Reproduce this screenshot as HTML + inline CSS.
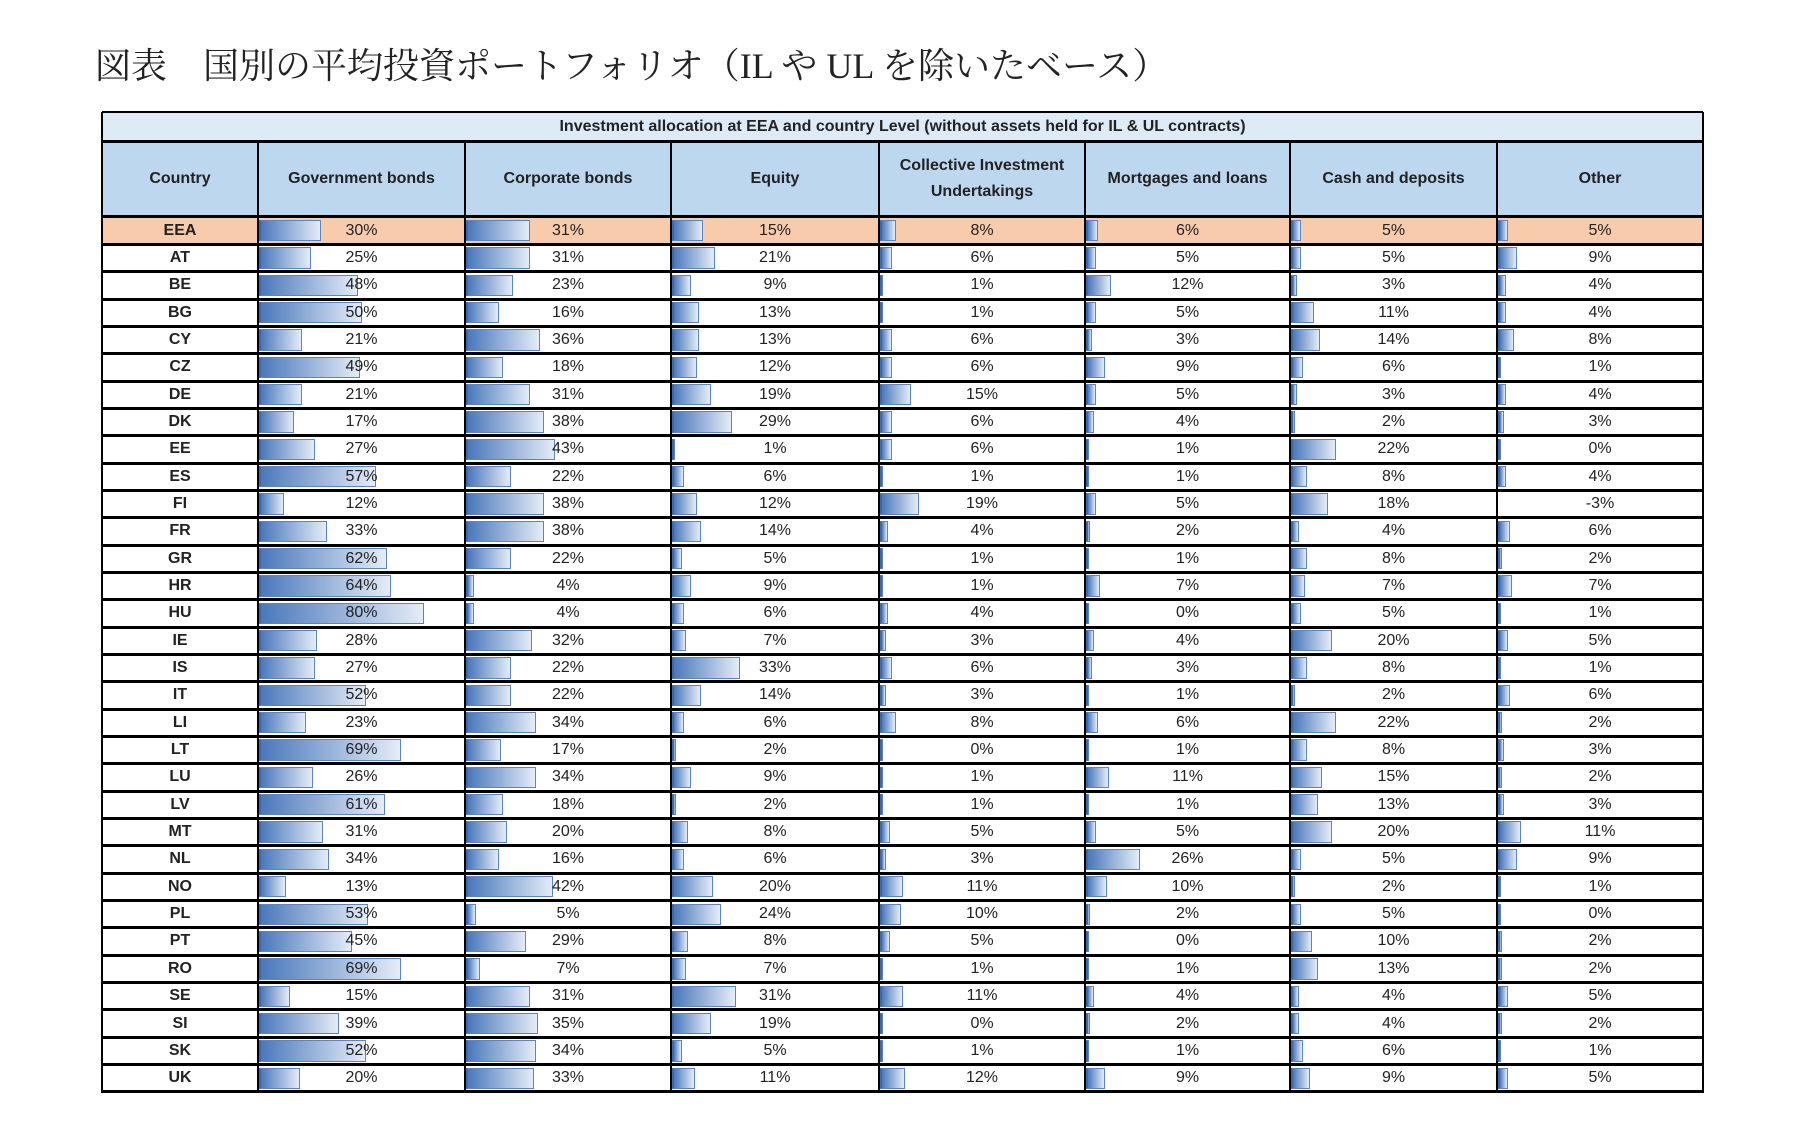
<!DOCTYPE html>
<html><head><meta charset="utf-8"><style>
body{margin:0;width:1808px;height:1121px;background:#fff;position:relative;overflow:hidden;font-family:"Liberation Sans Narrow","Liberation Sans",sans-serif}
.title{position:absolute;left:95px;top:38px;font-family:"Liberation Serif","Noto Serif CJK JP",serif;font-size:36px;color:#222;white-space:nowrap}
.c{position:absolute;box-sizing:border-box;display:flex;align-items:center;justify-content:center;font-size:16px;color:#222;text-align:center}
.bar{position:absolute;left:1px;top:3px;bottom:3px;background:linear-gradient(to right,#4a78bb,#e4ecf7);border:1px solid #5b84c0;border-left:2px solid #3d68aa;box-sizing:border-box}
.t{position:relative;z-index:1}
.hl{position:absolute;left:102px;width:1601px;background:#000}
.vl{position:absolute;width:2px;background:#000}
</style></head><body>
<div class="title">図表　国別の平均投資ポートフォリオ（IL や UL を除いたベース）</div>
<div id="t"></div>
<script>
var X=[102,258,465,671,879,1085,1290,1497,1703];
var D=`EEA 30 31 15 8 6 5 5
AT 25 31 21 6 5 5 9
BE 48 23 9 1 12 3 4
BG 50 16 13 1 5 11 4
CY 21 36 13 6 3 14 8
CZ 49 18 12 6 9 6 1
DE 21 31 19 15 5 3 4
DK 17 38 29 6 4 2 3
EE 27 43 1 6 1 22 0
ES 57 22 6 1 1 8 4
FI 12 38 12 19 5 18 -3
FR 33 38 14 4 2 4 6
GR 62 22 5 1 1 8 2
HR 64 4 9 1 7 7 7
HU 80 4 6 4 0 5 1
IE 28 32 7 3 4 20 5
IS 27 22 33 6 3 8 1
IT 52 22 14 3 1 2 6
LI 23 34 6 8 6 22 2
LT 69 17 2 0 1 8 3
LU 26 34 9 1 11 15 2
LV 61 18 2 1 1 13 3
MT 31 20 8 5 5 20 11
NL 34 16 6 3 26 5 9
NO 13 42 20 11 10 2 1
PL 53 5 24 10 2 5 0
PT 45 29 8 5 0 10 2
RO 69 7 7 1 1 13 2
SE 15 31 31 11 4 4 5
SI 39 35 19 0 2 4 2
SK 52 34 5 1 1 6 1
UK 20 33 11 12 9 9 5`.split("\n");
var H=["Country","Government bonds","Corporate bonds","Equity","Collective Investment<br>Undertakings","Mortgages and loans","Cash and deposits","Other"];
var h='';
h+='<div class="c" style="left:102px;top:112px;width:1601px;height:29px;background:#ddebf7;font-weight:bold;font-size:16px">Investment allocation at EEA and country Level (without assets held for IL &amp; UL contracts)</div>';
for(var i=0;i<8;i++)h+='<div class="c" style="left:'+X[i]+'px;top:141px;width:'+(X[i+1]-X[i])+'px;height:76px;background:#bdd7ee;font-weight:bold;line-height:26px">'+H[i]+'</div>';
var top0=217,rh=27.34;
D.forEach(function(r,j){var v=r.split(" ");var y=top0+j*rh;var bg=j==0?'#f8cbad':'#fff';
for(var i=0;i<8;i++){var w=X[i+1]-X[i];var inner='';
if(i==0)inner='<span class="t" style="font-weight:bold">'+v[0]+'</span>';
else{var p=+v[i];var bw=p<0?0:Math.max(p*2.06,3);
inner=(bw?'<div class="bar" style="width:'+bw+'px"></div>':'')+'<span class="t">'+p+'%</span>';}
h+='<div class="c" style="left:'+X[i]+'px;top:'+y+'px;width:'+w+'px;height:'+rh+'px;background:'+bg+'">'+inner+'</div>';}
});
h+='<div class="hl" style="top:111px;height:2px"></div><div class="hl" style="top:140px;height:3px"></div><div class="hl" style="top:215px;height:3px"></div>';
for(var j=1;j<=32;j++)h+='<div class="hl" style="top:'+(top0+j*rh-1.5)+'px;height:3px"></div>';
for(var i=0;i<9;i++)h+='<div class="vl" style="left:'+(X[i]-1)+'px;top:'+(i==0||i==8?112:141)+'px;height:'+(i==0||i==8?981:952)+'px"></div>';
document.getElementById('t').innerHTML=h;
</script>
</body></html>
